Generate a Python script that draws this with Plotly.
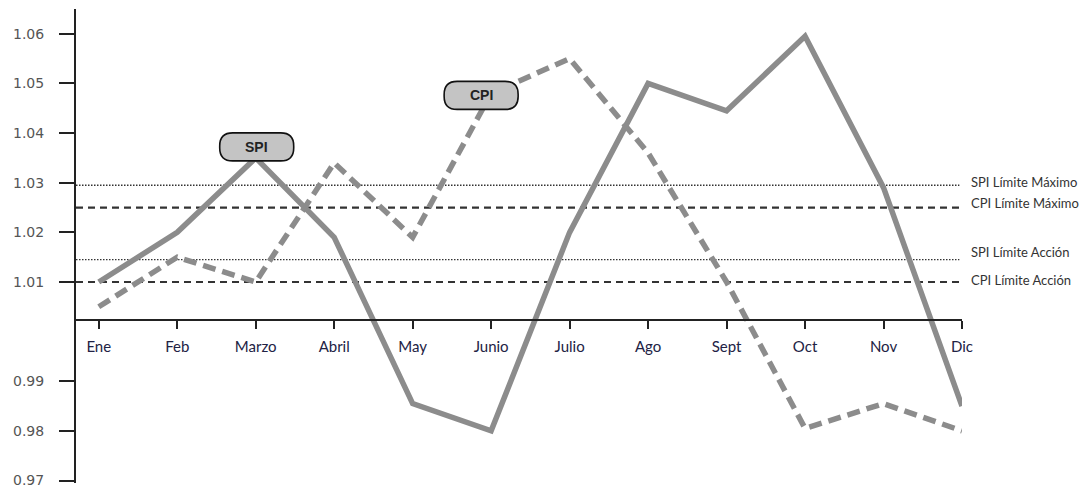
import plotly.graph_objects as go

months = ["Ene", "Feb", "Marzo", "Abril", "May", "Junio", "Julio", "Ago", "Sept", "Oct", "Nov", "Dic"]
spi = [1.010, 1.020, 1.035, 1.019, 0.9855, 0.980, 1.020, 1.050, 1.0445, 1.0595, 1.029, 0.985]
cpi = [1.005, 1.015, 1.010, 1.034, 1.019, 1.048, 1.055, 1.036, 1.010, 0.9805, 0.9855, 0.980]

limit_names = ["SPI Límite Máximo", "CPI Límite Máximo", "SPI Límite Acción", "CPI Límite Acción"]
limit_values = [1.0295, 1.025, 1.0145, 1.010]
limit_dash = ["1.5px,1.5px", "7px,5px", "1.5px,1.5px", "7px,5px"]
limit_width = [1.4, 2.2, 1.4, 2.2]
label_shift = [3, 5, 8, 2]

y_tickvals = [0.97, 0.98, 0.99, 1.01, 1.02, 1.03, 1.04, 1.05, 1.06]
y_ticktext = ["0.97", "0.98", "0.99", "1.01", "1.02", "1.03", "1.04", "1.05", "1.06"]
y_range = [0.9695, 1.065]
x_axis_value = 1.0024
x_range = [-0.29, 11]

line_color = "#8c8c8c"
axis_color = "#222222"

fig = go.Figure()
fig.add_trace(go.Scatter(x=months, y=spi, mode="lines", name="SPI", cliponaxis=False,
                         line=dict(color=line_color, width=5.5)))
fig.add_trace(go.Scatter(x=months, y=cpi, mode="lines", name="CPI", cliponaxis=False,
                         line=dict(color=line_color, width=5.5, dash="13px,7px")))

shapes = []
annotations = []
for name, v, d, w, s in zip(limit_names, limit_values, limit_dash, limit_width, label_shift):
    shapes.append(dict(type="line", xref="paper", x0=0, x1=0.997, yref="y", y0=v, y1=v,
                       line=dict(color="#333333", width=w, dash=d), layer="below"))
    annotations.append(dict(xref="paper", x=1, yref="y", y=v, text=name, showarrow=False,
                            xanchor="left", yanchor="middle", xshift=7, yshift=s,
                            font=dict(family="Lato", size=13, color="#333333")))


def pill(cx, cy):
    # rounded box in pixel offsets around (cx, cy)
    w, h, r = 37, 14, 13
    x0, x1 = cx - w, cx + w
    y0, y1 = cy - h, cy + h
    return (f"M {x0 + r},{y0} L {x1 - r},{y0} Q {x1},{y0} {x1},{y0 + r} "
            f"L {x1},{y1 - r} Q {x1},{y1} {x1 - r},{y1} L {x0 + r},{y1} "
            f"Q {x0},{y1} {x0},{y1 - r} L {x0},{y0 + r} Q {x0},{y0} {x0 + r},{y0} Z")


badges = [("SPI", months[2], spi[2], 1, 11), ("CPI", months[5], cpi[5], -10, -2)]
for text, mx, my, dx, dy in badges:
    shapes.append(dict(type="path", xref="x", yref="y", xsizemode="pixel", ysizemode="pixel",
                       xanchor=mx, yanchor=my, path=pill(dx, dy),
                       fillcolor="#c4c4c4", line=dict(color="#111111", width=1.6), layer="above"))
    annotations.append(dict(xref="x", yref="y", x=mx, y=my, text=f"<b>{text}</b>", showarrow=False,
                            xshift=dx, yshift=dy,
                            font=dict(family="Liberation Sans", size=14, color="#222222")))

fig.update_layout(
    width=1092, height=493,
    margin=dict(l=76, r=130, t=9, b=10, autoexpand=False),
    paper_bgcolor="white", plot_bgcolor="white",
    showlegend=False,
    shapes=shapes, annotations=annotations,
    xaxis=dict(range=x_range, anchor="free", automargin=False,
               position=(x_axis_value - y_range[0]) / (y_range[1] - y_range[0]),
               showgrid=False, zeroline=False, showline=True, linecolor=axis_color, linewidth=2,
               ticks="outside", ticklen=8, tickwidth=2, tickcolor=axis_color,
               tickfont=dict(family="Lato", size=15, color="#222244"), ticklabelstandoff=5),
    yaxis=dict(range=y_range, tickvals=y_tickvals, ticktext=y_ticktext, automargin=False,
               showgrid=False, zeroline=False, showline=True, linecolor=axis_color, linewidth=2,
               ticks="outside", ticklen=15, tickwidth=2, tickcolor=axis_color,
               tickfont=dict(family="DejaVu Sans", size=14, color="#555555"), ticklabelstandoff=12),
)

fig.write_html("out.html")
